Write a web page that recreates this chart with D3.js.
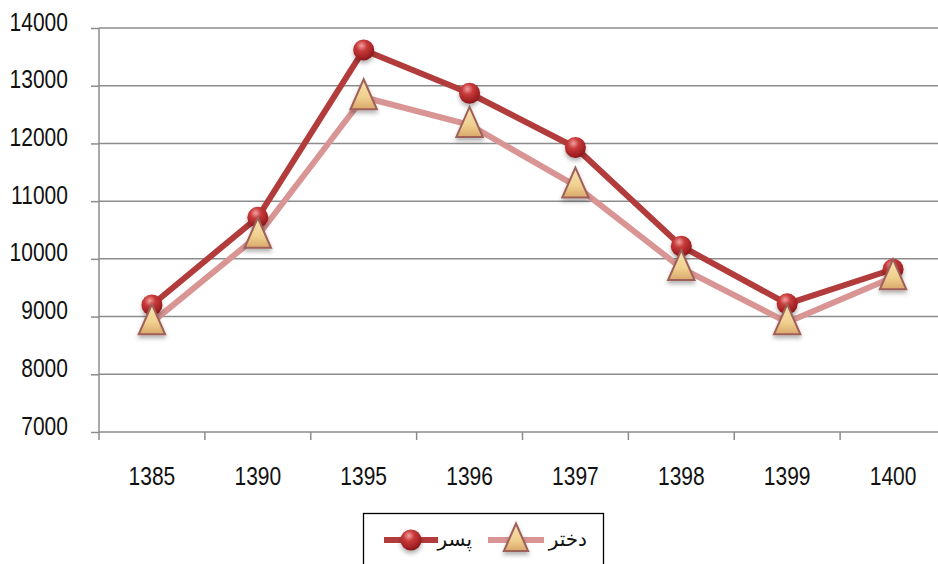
<!DOCTYPE html>
<html><head><meta charset="utf-8">
<script src="https://cdn.jsdelivr.net/npm/d3@7"></script>
<style>
html,body{margin:0;padding:0;background:#fff;}
svg{display:block;}
</style></head>
<body>
<svg id="c" width="938" height="564"></svg>
<script>
const years = ["1385","1390","1395","1396","1397","1398","1399","1400"];
const boys  = [9200, 10720, 13620, 12870, 11930, 10220, 9220, 9820];
const girls = [8900, 10400, 12800, 12320, 11270, 9840, 8900, 9680];
const yTicks = [7000, 8000, 9000, 10000, 11000, 12000, 13000, 14000];
const boyLabel = "پسر";
const girlLabel = "دختر";

(function(){
const svg = d3.select("#c");
const pL = 99, pR = 946, pT = 28, pB = 432;
const x = d3.scaleBand().domain(years).range([pL, pR]);
const y = d3.scaleLinear().domain([7000, 14000]).range([pB, pT]);
const numFont = "'Liberation Sans',Arial,sans-serif";
const sx = 0.84;

const defs = svg.append("defs");
const rg = defs.append("radialGradient").attr("id","ball").attr("cx","40%").attr("cy","30%").attr("r","75%");
rg.append("stop").attr("offset","0%").attr("stop-color","#f2a0a0");
rg.append("stop").attr("offset","35%").attr("stop-color","#c83a3a");
rg.append("stop").attr("offset","80%").attr("stop-color","#9e1f22");
rg.append("stop").attr("offset","100%").attr("stop-color","#7a1518");
const lg = defs.append("linearGradient").attr("id","tri").attr("x1","0").attr("y1","0").attr("x2","0").attr("y2","1");
lg.append("stop").attr("offset","0%").attr("stop-color","#f6e3b0");
lg.append("stop").attr("offset","60%").attr("stop-color","#f0d08f");
lg.append("stop").attr("offset","100%").attr("stop-color","#d9a86a");
const f = defs.append("filter").attr("id","sh").attr("x","-50%").attr("y","-50%").attr("width","200%").attr("height","200%");
f.append("feDropShadow").attr("dx",0).attr("dy",3).attr("stdDeviation",2).attr("flood-color","#000").attr("flood-opacity",0.3);

// gridlines
svg.append("g").selectAll("line").data(yTicks).join("line")
  .attr("x1", pL).attr("x2", pR).attr("y1", d=>y(d)).attr("y2", d=>y(d))
  .attr("stroke","#8c8c8c").attr("stroke-width",1.5);

// y axis
const ya = svg.append("g").attr("transform",`translate(${pL},0)`)
  .call(d3.axisLeft(y).tickValues(yTicks).tickSize(8).tickPadding(29).tickFormat(d3.format("d")));
ya.select(".domain").attr("d", `M0,${pT}V${pB+8}`).attr("stroke","#8c8c8c").attr("stroke-width",1.5);
ya.selectAll(".tick line").attr("stroke","#8c8c8c").attr("stroke-width",1.5);
ya.selectAll("text").attr("font-family",numFont).attr("font-size",25).attr("fill","#111")
  .attr("dy","0.28em").attr("y",-5).attr("transform",`scale(${sx},1)`);

// x axis
const xa = svg.append("g").attr("transform",`translate(0,${pB})`)
  .call(d3.axisBottom(x).tickSize(0).tickPadding(35));
xa.select(".domain").remove();
xa.selectAll("text").attr("font-family",numFont).attr("font-size",25).attr("fill","#111")
  .attr("transform",`scale(${sx},1)`);
svg.append("g").selectAll("line").data(years.slice(1)).join("line")
  .attr("x1", d=>x(d)).attr("x2", d=>x(d)).attr("y1", pB).attr("y2", pB+8)
  .attr("stroke","#8c8c8c").attr("stroke-width",1.5);

const cx = d => x(d) + x.bandwidth()/2;
const line = d3.line().x(d=>cx(d[0])).y(d=>y(d[1]));
const bData = years.map((d,i)=>[d,boys[i]]);
const gData = years.map((d,i)=>[d,girls[i]]);

svg.append("path").datum(gData).attr("d",line).attr("fill","none")
  .attr("stroke","#d99594").attr("stroke-width",6).attr("stroke-linejoin","round");
svg.append("path").datum(bData).attr("d",line).attr("fill","none")
  .attr("stroke","#b23c3b").attr("stroke-width",6).attr("stroke-linejoin","round");

const triPath = (s) => `M0,${-s*0.75}L${s*0.55},${s*0.5}L${-s*0.55},${s*0.5}Z`;

svg.append("g").selectAll("circle").data(bData).join("circle")
  .attr("cx", d=>cx(d[0])).attr("cy", d=>y(d[1])).attr("r", 10.5)
  .attr("fill","url(#ball)").attr("filter","url(#sh)");
svg.append("g").selectAll("path").data(gData).join("path")
  .attr("transform", d=>`translate(${cx(d[0])},${y(d[1])})`)
  .attr("d", triPath(24))
  .attr("fill","url(#tri)").attr("stroke","#a0605a").attr("stroke-width",2).attr("stroke-linejoin","miter")
  .attr("filter","url(#sh)");

// legend
const lgd = svg.append("g");
lgd.append("rect").attr("x",363.5).attr("y",513.5).attr("width",240).attr("height",60)
  .attr("fill","#fff").attr("stroke","#000").attr("stroke-width",1.3);
const ly = 540;
lgd.append("line").attr("x1",384).attr("x2",438).attr("y1",ly).attr("y2",ly).attr("stroke","#b23c3b").attr("stroke-width",6);
lgd.append("circle").attr("cx",411).attr("cy",ly).attr("r",10.5).attr("fill","url(#ball)").attr("filter","url(#sh)");
lgd.append("text").attr("x",472).attr("y",ly+6).attr("text-anchor","end").attr("font-family","'DejaVu Sans',sans-serif").attr("font-size",20).attr("fill","#111").text(boyLabel);
lgd.append("line").attr("x1",488).attr("x2",544).attr("y1",ly).attr("y2",ly).attr("stroke","#d99594").attr("stroke-width",6);
lgd.append("path").attr("transform",`translate(516,${ly})`).attr("d",triPath(22))
  .attr("fill","url(#tri)").attr("stroke","#a0605a").attr("stroke-width",2).attr("filter","url(#sh)");
lgd.append("text").attr("x",587).attr("y",ly+6).attr("text-anchor","end").attr("font-family","'DejaVu Sans',sans-serif").attr("font-size",20).attr("fill","#111").text(girlLabel);
})();
</script>
</body></html>
